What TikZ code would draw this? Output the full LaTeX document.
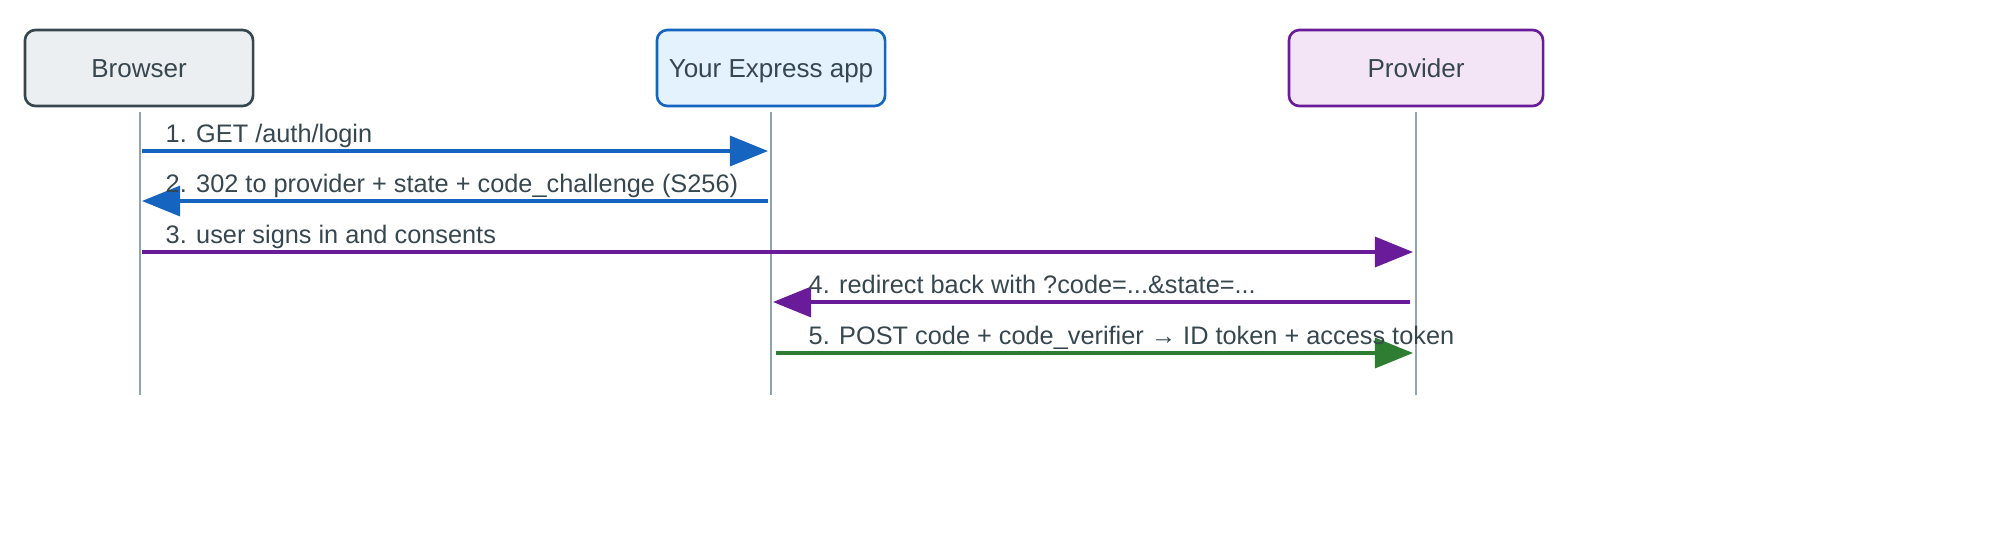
\documentclass[tikz,border=0pt]{standalone}
\usepackage{fontspec}
\setmainfont{Liberation Sans}
\definecolor{appblue}{HTML}{1565C0}
\definecolor{provpurple}{HTML}{6A1B9A}
\definecolor{tokgreen}{HTML}{2E7D32}
\definecolor{lifegray}{HTML}{90A4AE}
\definecolor{browserfill}{HTML}{ECEFF1}
\definecolor{browserdraw}{HTML}{37474F}
\definecolor{appfill}{HTML}{E3F2FD}
\definecolor{provfill}{HTML}{F3E5F5}
\usetikzlibrary{arrows.meta,positioning}

\begin{document}
\begin{tikzpicture}[
    x=0.01cm, y=-0.01cm,
    actor/.style={rectangle, rounded corners=3pt, line width=0.75pt, minimum height=0.76cm, align=center, text height=0.75em, text depth=0.22em, font=\fontsize{7.4}{9}\selectfont, text=browserdraw},
    lifeline/.style={draw=lifegray, line width=0.6pt},
    msg/.style={line width=0.9pt, -{Triangle[length=0.38cm,width=0.3cm]}},
    msglabel/.style={anchor=base west, font=\fontsize{7.2}{9}\selectfont, text=browserdraw, inner sep=0pt}
]
\useasboundingbox (0,0) rectangle (2000,532);

% participants
\node[actor, draw=browserdraw, fill=browserfill, minimum width=2.28cm] (browser) at (139,68) {Browser};
\node[actor, draw=appblue, fill=appfill, minimum width=2.28cm] (app) at (771,68) {Your Express app};
\node[actor, draw=provpurple, fill=provfill, minimum width=2.54cm] (provider) at (1416,68) {Provider};

% lifelines
\coordinate (browserend) at (140,395);
\coordinate (append) at (771,395);
\coordinate (providerend) at (1416,395);
\draw[lifeline] (140,112) -- (browserend);
\draw[lifeline] (771,112) -- (append);
\draw[lifeline] (1416,112) -- (providerend);

% message end points
\coordinate (b1) at (142,151); \coordinate (a1) at (768,151);
\coordinate (a2) at (768,201); \coordinate (b2) at (142,201);
\coordinate (b3) at (142,252); \coordinate (p3) at (1413,252);
\coordinate (p4) at (1410,302); \coordinate (a4) at (773,302);
\coordinate (a5) at (776,353); \coordinate (p5) at (1413,353);

% messages
\draw[msg, draw=appblue, fill=appblue] (b1) -- (a1);
\node[msglabel] (m1) at (165,142) {1. GET /auth/login};
\draw[msg, draw=appblue, fill=appblue] (a2) -- (b2);
\node[msglabel] (m2) at (165,192) {2. 302 to provider + state + code\_challenge (S256)};
\draw[msg, draw=provpurple, fill=provpurple] (b3) -- (p3);
\node[msglabel] (m3) at (165,243) {3. user signs in and consents};
\draw[msg, draw=provpurple, fill=provpurple] (p4) -- (a4);
\node[msglabel] (m4) at (808,293) {4. redirect back with ?code=...\&state=...};
\draw[msg, draw=tokgreen, fill=tokgreen] (a5) -- (p5);
\node[msglabel] (m5) at (808,344) {5. POST code + code\_verifier → ID token + access token};

\end{tikzpicture}
\end{document}
